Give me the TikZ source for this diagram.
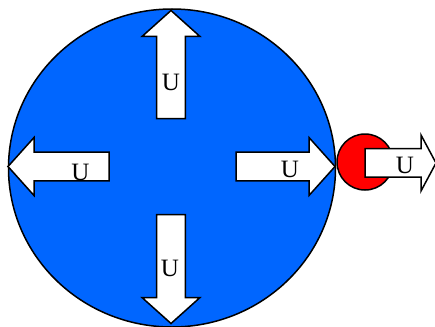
\documentclass[tikz,border=0pt]{standalone}
\usepackage{fontspec}
\setmainfont{Liberation Serif}
\usetikzlibrary{positioning}
\definecolor{dropBlue}{HTML}{0066FF}
\definecolor{dropRed}{HTML}{FF0000}

\begin{document}
\begin{tikzpicture}[x=1pt, y=-1pt, line width=1.5pt,
    flow/.style={draw=black, fill=white},
    ulabel/.style={font=\fontsize{25}{25}\selectfont, inner sep=0pt}]
  \useasboundingbox (0,0) rectangle (435,326);
  \begin{scope}
    \clip (0,0) rectangle (435,326);
    % big drop and small red drop
    \filldraw[fill=dropBlue] (172,168) ellipse [x radius=163.5, y radius=159];
    \filldraw[fill=dropRed] (365,162) circle [radius=28];
    % outflow arrows of the big drop
    \foreach \ang/\tl/\tp in {0/65/164, 180/62/163, 90/48/156, 270/48/157} {
      \begin{scope}[shift={(171,166.5)}, rotate=\ang]
        \draw[flow] (\tl,-14.3) -- (\tp-26,-14.3) -- (\tp-26,-29) -- (\tp,0)
          -- (\tp-26,29) -- (\tp-26,14.3) -- (\tl,14.3) -- cycle;
      \end{scope}
    }
    % arrow of the small drop
    \draw[flow] (365,148.5) -- (421,148.5) -- (421,135) -- (436,163)
      -- (421,191) -- (421,177) -- (365,177) -- cycle;
  \end{scope}
  % labels
  \node[ulabel] (uTop) at (171,82) {U};
  \node[ulabel] (uLeft) at (80.5,172) {U};
  \node[ulabel] (uRight) at (290,169) {U};
  \node[ulabel] (uBottom) at (170,268) {U};
  \node[ulabel] (uSmall) at (405,165.5) {U};
\end{tikzpicture}
\end{document}
